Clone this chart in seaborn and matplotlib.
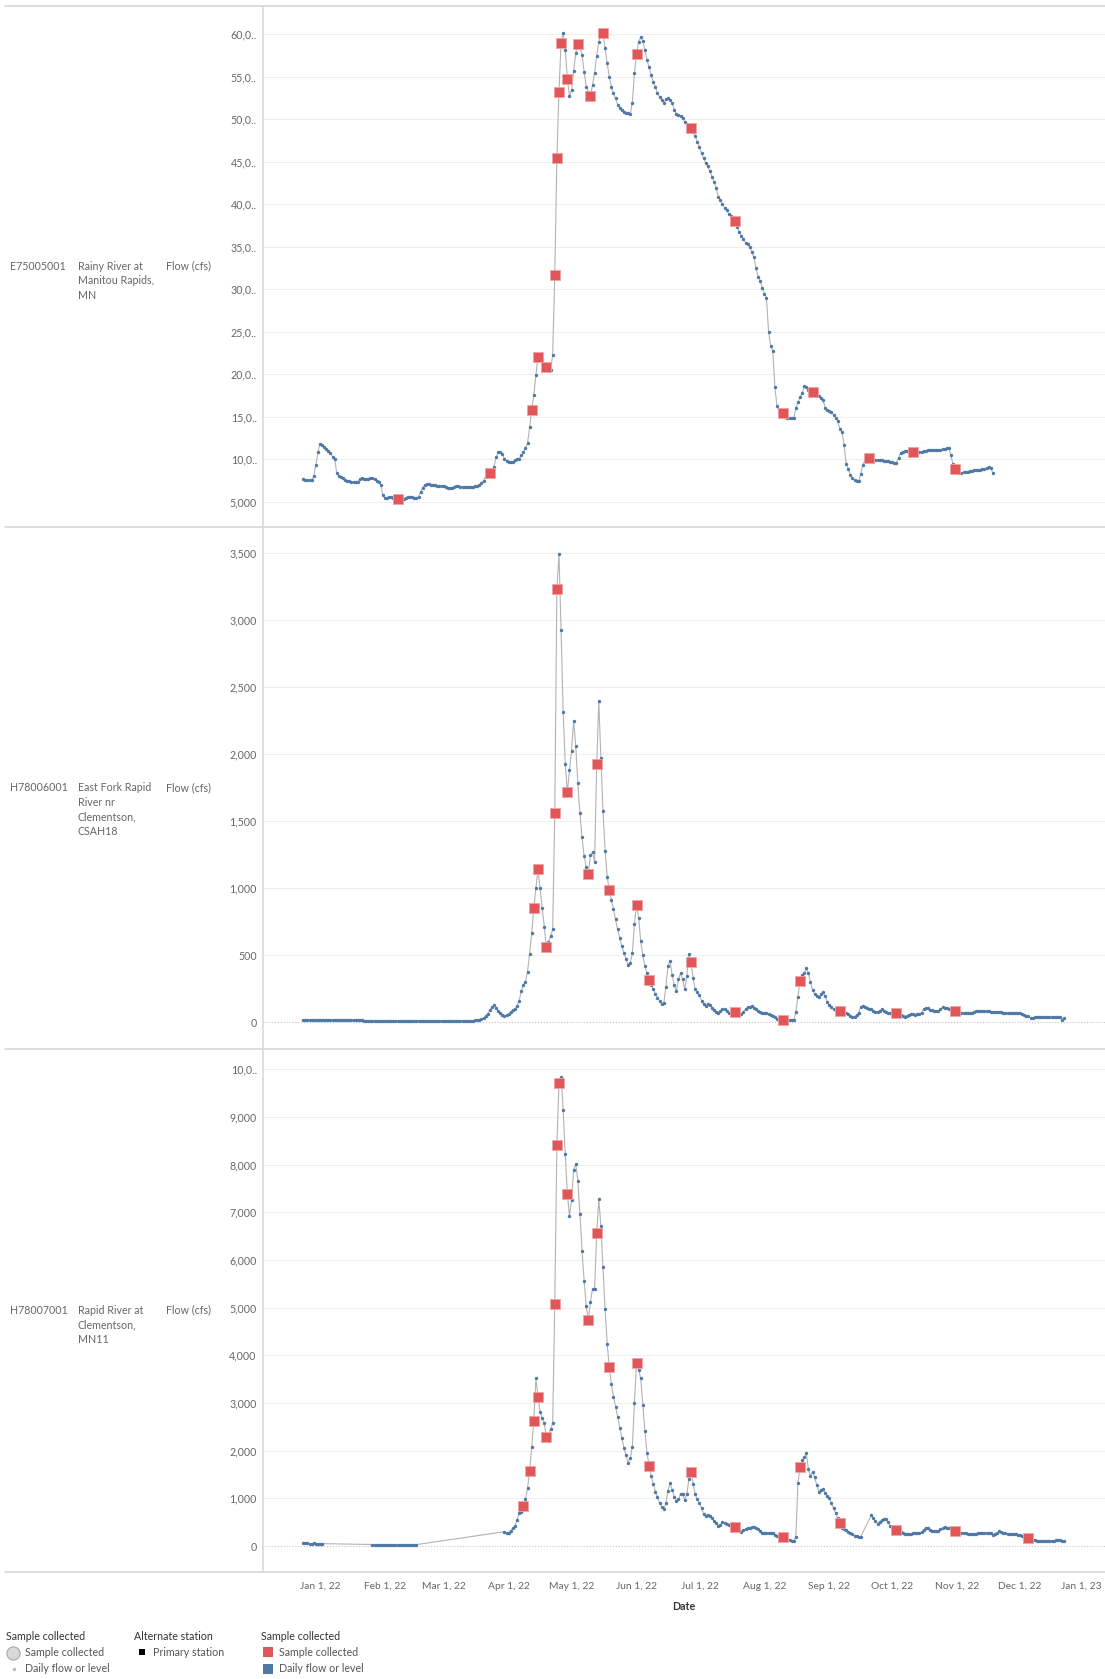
# -*- coding: utf-8 -*-

# Import libraries ======================================================================

import numpy as np
import pandas as pd
import matplotlib.pyplot as plt
from matplotlib.lines import Line2D
import seaborn as sns

# Data ==================================================================================

# Daily flow (cfs), one value per day starting on Dec 24, 2021. None = no reading.
START_DATE = "2021-12-24"

rainy_flow = [
    7700, 7600, 7550, 7550, 7550, 8000, 9330, 10800,  # Dec 24 - Dec 31
    11800, 11700, 11500, 11200, 11000, 10700, 10300, 10050, 8350, 8000,
    7900, 7750, 7550, 7450, 7400, 7300, 7350, 7350, 7350, 7700,
    7750, 7700, 7650, 7700, 7800, 7750, 7650, 7500, 7350, 6950,
    5800, 5500, 5500, 5600, 5600, 5500, 5450, 5350, 5200, 5200,
    5300, 5500, 5600, 5600, 5600, 5500, 5450, 5600, 6200, 6650,
    7000, 7050, 7050, 7000, 7000, 6950, 6900, 6900, 6850, 6800,
    6700, 6650, 6650, 6650, 6700, 6800, 6800, 6750, 6750, 6750,
    6750, 6750, 6750, 6750, 6800, 6850, 6950, 7200, 7500, 7950,
    8150, 8350, 8650, 9150, 10300, 10800, 10800, 10600, 10000, 9850,
    9700, 9650, 9700, 9900, 10000, 10050, 10450, 10800, 11300, 11900,
    13750, 15800, 17600, 19900, 22050, 22000, 21750, 21250, 20900, 20500,
    20550, 22300, 31650, 45400, 53250, 59000, 60200, 58200, 54800, 52700,
    53450, 55700, 57750, 58900, 58550, 57550, 55600, 53850, 53250, 52800,
    54000, 55500, 57450, 59150, 59900, 60100, 58350, 56600, 55000, 53850,
    53100, 52450, 51700, 51350, 51100, 50900, 50800, 50700, 50650, 51950,
    55400, 57650, 59150, 59650, 59250, 58150, 57000, 56100, 55200, 54400,
    53850, 53100, 52650, 52250, 51950, 52350, 52450, 52250, 51900, 51150,
    50600, 50500, 50400, 50100, 49700, 49450, 49200, 49000, 48550, 48050,
    47350, 46750, 46000, 45400, 44900, 44450, 43900, 43250, 42650, 41900,
    40900, 40500, 40000, 39600, 39300, 38900, 38600, 38300, 38000, 37300,
    36800, 36300, 35900, 35500, 35300, 35000, 34400, 33800, 32500, 31500,
    31000, 30200, 29500, 29000, 25000, 23300, 22800, 18500, 16300, 15500,
    15400, 15400, 15000, 14800, 14800, 14800, 14800, 16000, 16700, 17300,
    17800, 18600, 18500, 18200, 18000, 17950, 17700, 17550, 17400, 17200,
    17000, 16000, 15850, 15700, 15570, 15250, 14900, 14470, 13570, 13220,
    11730, 9500, 8870, 8200, 7800, 7550, 7450, 7420, 8290, 9380,
    9800, 10000, 10100, 10050, 10000, 9970, 9950, 9920, 9900, 9850,
    9800, 9750, 9700, 9650, 9600, 9580, 10170, 10760, 10900, 10950,
    10950, 10900, 10850, 10840, 10850, 10850, 10840, 10900, 10950, 11030,
    11050, 11080, 11110, 11110, 11110, 11110, 11150, 11200, 11250, 11300,
    11350, 10450, 9400, 8870, 8500, 8400, 8420, 8450, 8480, 8550,
    8620, 8680, 8700, 8700, 8720, 8750, 8800, 8870, 9000, 9070,
    9000, 8400,
]

east_fork_flow = [
    18, 18, 17, 18, 18, 17, 15, 18,  # Dec 24 - Dec 31
    18, 17, 15, 18, 17, 15, 17, 18, 18, 17,
    15, 17, 18, 18, 17, 15, 15, 15, 14, 12,
    12, 11, 10, 10, 10, 10, 10, 10, 11, 10,
    10, 10, 10, 10, 10, 10, 10, 10, 10, 10,
    10, 10, 10, 10, 10, 10, 10, 10, 10, 10,
    10, 10, 10, 10, 10, 10, 10, 10, 10, 10,
    10, 10, 10, 10, 10, 10, 10, 10, 10, 10,
    10, 10, 10, 10, 12, 15, 17, 20, 30, 45,
    60, 90, 110, 124, 107, 85, 65, 52, 47, 50,
    60, 77, 90, 97, 122, 157, 231, 276, 301, 376,
    510, 662, 853, 1000, 1139, 997, 853, 711, 557, 600,
    640, 691, 1557, 3231, 3493, 2925, 2316, 1925, 1714, 1880,
    2025, 2246, 2060, 1781, 1557, 1378, 1239, 1160, 1107, 1246,
    1266, 1194, 1923, 2393, 1968, 1577, 1279, 1085, 985, 910,
    841, 766, 691, 624, 567, 517, 473, 425, 443, 512,
    731, 871, 779, 604, 497, 418, 363, 313, 276, 244,
    209, 182, 159, 134, 139, 264, 420, 455, 351, 274,
    231, 318, 363, 318, 244, 343, 507, 445, 326, 244,
    221, 201, 159, 132, 119, 134, 124, 107, 90, 77,
    70, 82, 95, 95, 82, 65, 65, 70, 72, 65,
    60, 60, 72, 100, 109, 112, 119, 107, 95, 85,
    77, 70, 70, 65, 60, 55, 45, 35, 25, 18,
    15, 15, 15, 15, 15, 15, 15, 72, 190, 308,
    350, 363, 400, 363, 296, 239, 206, 197, 189, 210,
    226, 194, 152, 127, 109, 95, 88, 85, 82, 77,
    70, 65, 57, 47, 40, 40, 55, 70, 114, 122,
    109, 102, 98, 95, 82, 77, 77, 85, 97, 85,
    72, 65, 65, 65, 65, 65, 55, 50, 45, 35,
    45, 52, 57, 57, 52, 57, 63, 70, 97, 102,
    102, 90, 88, 85, 85, 82, 95, 109, 105, 102,
    97, 92, 88, 85, 78, 72, 71, 70, 67, 65,
    65, 65, 72, 80, 85, 85, 85, 84, 82, 80,
    77, 77, 77, 77, 75, 72, 71, 70, 70, 70,
    70, 70, 70, 68, 65, 58, 52, 48, 45, 30,
    33, 35, 36, 37, 37, 37, 37, 37, 37, 37,
    37, 37, 37, 35, 15, 32,
]

rapid_flow = [
    55, 55, 55, 50, 50, 55, 35, 40,  # Dec 24 - Dec 31
    50, 50, None, None, None, None, None, None, None, None,
    None, None, None, None, None, None, None, None, None, None,
    None, None, None, None, None, 30, 30, 30, 30, 30,
    30, 30, 30, 30, 30, 30, 30, 30, 30, 30,
    30, 30, 30, 30, 30, 30, 30, None, None, None,
    None, None, None, None, None, None, None, None, None, None,
    None, None, None, None, None, None, None, None, None, None,
    None, None, None, None, None, None, None, None, None, None,
    None, None, None, None, None, None, None, None, 300, 266,
    280, 322, 370, 420, 545, 685, 720, 846, 979, 1210,
    1580, 2070, 2622, 3517, 3119, 2818, 2678, 2573, 2280, 2350,
    2450, 2573, 5077, 8413, 9706, 9832, 9147, 8217, 7385, 6923,
    7259, 7888, 8014, 7664, 6965, 6196, 5566, 5042, 4741, 5112,
    5399, 5399, 6559, 7273, 6713, 5846, 4972, 4238, 3762, 3392,
    3133, 2923, 2713, 2483, 2259, 2063, 1909, 1748, 1839, 2084,
    2993, 3832, 3700, 3517, 2958, 2413, 1958, 1678, 1469, 1301,
    1140, 1021, 909, 825, 776, 895, 1161, 1315, 1175, 1035,
    951, 979, 1091, 1091, 965, 1091, 1400, 1545, 1301, 1091,
    979, 909, 790, 671, 629, 650, 629, 580, 524, 475,
    420, 440, 496, 490, 462, 440, 420, 400, 392, 360,
    336, 300, 336, 355, 370, 370, 392, 392, 370, 350,
    315, 280, 266, 266, 273, 280, 280, 231, 217, 200,
    190, 182, 165, 147, 130, 112, 112, 196, 1315, 1650,
    1800, 1860, 1944, 1615, 1469, 1559, 1440, 1280, 1140, 1175,
    1189, 1105, 1050, 1000, 895, 790, 685, 580, 475, 370,
    350, 336, 300, 266, 245, 217, 205, 196, 196, None,
    None, None, None, 650, 580, 531, 462, 510, 540, 566,
    559, 496, 420, 380, 350, 336, 310, 290, 280, 252,
    252, 252, 252, 266, 266, 266, 266, 294, 340, 385,
    370, 345, 322, 315, 315, 315, 350, 370, 392, 380,
    370, 350, 335, 322, 300, 287, 280, 272, 266, 260,
    252, 252, 252, 260, 266, 266, 266, 280, 266, 273,
    280, 231, 250, 266, 315, 287, 275, 266, 260, 252,
    252, 252, 252, 240, 231, 215, 196, 180, 161, 145,
    126, 120, 115, 112, 112, 112, 112, 112, 112, 112,
    112, 120, 126, 126, 112, 105,
]

# Sample dates as day offsets from Jan 1, 2022
rainy_samples = [37, 81, 101, 104, 108, 112, 113, 114, 115, 118, 123, 129, 135,
                 151, 177, 198, 221, 235, 262, 283, 303]
east_fork_samples = [102, 104, 108, 112, 113, 118, 128, 132, 138, 151, 157, 177,
                     198, 221, 229, 248, 275, 303]
rapid_samples = [97, 100, 102, 104, 108, 112, 113, 114, 118, 128, 132, 138, 151,
                 157, 177, 198, 221, 229, 248, 275, 303, 338]

station_ids = ["E75005001", "H78006001", "H78007001"]
station_names = ["Rainy River at\nManitou Rapids,\nMN",
                 "East Fork Rapid\nRiver nr\nClementson,\nCSAH18",
                 "Rapid River at\nClementson,\nMN11"]
measure_label = "Flow (cfs)"

rainy_ticks = [5000, 10000, 15000, 20000, 25000, 30000, 35000, 40000, 45000, 50000, 55000, 60000]
rainy_tick_labels = ["5,000", "10,0..", "15,0..", "20,0..", "25,0..", "30,0..",
                     "35,0..", "40,0..", "45,0..", "50,0..", "55,0..", "60,0.."]
east_fork_ticks = [0, 500, 1000, 1500, 2000, 2500, 3000, 3500]
east_fork_tick_labels = ["0", "500", "1,000", "1,500", "2,000", "2,500", "3,000", "3,500"]
rapid_ticks = [0, 1000, 2000, 3000, 4000, 5000, 6000, 7000, 8000, 9000, 10000]
rapid_tick_labels = ["0", "1,000", "2,000", "3,000", "4,000", "5,000", "6,000",
                     "7,000", "8,000", "9,000", "10,0.."]

# Style =================================================================================

sns.set_style("white")
plt.rcParams["font.family"] = ["Lato", "DejaVu Sans"]

BLUE = "#4e79a7"
RED = "#e15759"
LINE = "#b3b3b3"
GRID = "#efefef"
SEP = "#d6d6d6"
TXT = "#666666"
FS = 7.7
XFS = 7.4

W, H = 1105, 1679
AX_LEFT = 263
panel_px = [(6, 527), (527, 1049), (1049, 1572)]
ylims = [(2035, 63330), (-201, 3694), (-545, 10426)]

jan1 = pd.Timestamp("2022-01-01")
x_min = jan1 + pd.Timedelta(days=-27.2)
x_max = jan1 + pd.Timedelta(days=374.5)
month_ticks = pd.date_range("2022-01-01", "2023-01-01", freq="MS")
month_labels = [f"{d:%b} {d.day}, {d:%y}" for d in month_ticks]


def station_frame(flows, sample_days):
    ''' Build a tidy frame of daily flow with a flag for the sample days. '''
    dates = pd.date_range(START_DATE, periods=len(flows), freq="D")
    df = pd.DataFrame({"Date": dates, "Flow": np.array(flows, dtype=float)})
    df["Day"] = (df["Date"] - jan1).dt.days
    df["Sample"] = df["Day"].isin(sample_days)
    return df.dropna(subset=["Flow"])


frames = [station_frame(rainy_flow, rainy_samples),
          station_frame(east_fork_flow, east_fork_samples),
          station_frame(rapid_flow, rapid_samples)]
ticks = [rainy_ticks, east_fork_ticks, rapid_ticks]
tick_labels = [rainy_tick_labels, east_fork_tick_labels, rapid_tick_labels]

# Plot ==================================================================================

fig = plt.figure(figsize=(W / 100, H / 100), dpi=100)

for i, df in enumerate(frames):
    top, bottom = panel_px[i]
    ax = fig.add_axes([AX_LEFT / W, 1 - bottom / H, (W - AX_LEFT) / W, (bottom - top) / H])

    # gridlines, zero line dotted
    for t in ticks[i]:
        if t == 0:
            ax.axhline(t, color="#c4c4c4", lw=0.8, ls=(0, (1, 1.6)), zorder=0)
        else:
            ax.axhline(t, color=GRID, lw=0.8, zorder=0)

    sns.lineplot(data=df, x="Date", y="Flow", ax=ax, color=LINE, linewidth=0.8,
                 estimator=None, zorder=2)
    sns.scatterplot(data=df, x="Date", y="Flow", ax=ax, color=BLUE, s=6,
                    linewidth=0, zorder=3)
    sns.scatterplot(data=df[df["Sample"]], x="Date", y="Flow", ax=ax, marker="s",
                    s=62, color=RED, edgecolor="#f2a3a4", linewidth=0.6, zorder=4)

    ax.set_xlim(x_min, x_max)
    ax.set_ylim(*ylims[i])
    ax.set_yticks(ticks[i], tick_labels[i])
    ax.set_xlabel("")
    ax.set_ylabel("")
    ax.tick_params(axis="y", length=0, pad=4.5, labelsize=FS, labelcolor=TXT)
    for s in ["top", "right", "bottom"]:
        ax.spines[s].set_visible(False)
    ax.spines["left"].set_color(SEP)
    ax.spines["left"].set_linewidth(1.1)

    ax.set_xticks(month_ticks)
    if i == 2:
        # last label is drawn separately so it stays inside the figure
        ax.set_xticklabels(month_labels[:-1] + [""])
        ax.tick_params(axis="x", length=4, width=0.8, color="#cccccc", pad=3,
                       labelsize=XFS, labelcolor=TXT)
    else:
        ax.tick_params(axis="x", length=0, labelbottom=False)

    # row headers
    yc = (top + bottom) / 2 - 6
    fig.text(10 / W, 1 - yc / H, station_ids[i], fontsize=FS, color=TXT, va="top")
    fig.text(78 / W, 1 - yc / H, station_names[i], fontsize=FS, color=TXT, va="top",
             linespacing=1.4)
    fig.text(166 / W, 1 - yc / H, measure_label, fontsize=FS, color=TXT, va="top")

fig.text(1081 / W, 1 - 1586 / H, month_labels[-1], fontsize=XFS, color=TXT,
         ha="center", va="center")

# panel separators
for y in [6, 527, 1049, 1572]:
    fig.add_artist(Line2D([5 / W, 1], [1 - y / H, 1 - y / H], color=SEP, lw=1.2))

fig.text(684 / W, 1 - 1607 / H, "Date", fontsize=FS, color="#333333",
         fontweight="bold", ha="center", va="center")

# Legends ===============================================================================

lax = fig.add_axes([0, 0, 1, 1])
lax.set_xlim(0, W)
lax.set_ylim(H, 0)
lax.axis("off")

title_kw = dict(fontsize=FS, color="#333333", va="center")
item_kw = dict(fontsize=FS, color="#555555", va="center")

lax.text(6, 1637, "Sample collected", **title_kw)
lax.scatter([13], [1653], s=90, color="#d9d9d9", edgecolor="#a8a8a8", linewidth=0.8)
lax.text(25, 1653, "Sample collected", **item_kw)
lax.scatter([14], [1669], s=6, color="#b8b8b8", linewidth=0)
lax.text(25, 1669, "Daily flow or level", **item_kw)

lax.text(134, 1637, "Alternate station", **title_kw)
lax.scatter([142], [1652], s=22, marker="s", color="black", linewidth=0)
lax.text(153, 1652, "Primary station", **item_kw)

lax.text(261, 1637, "Sample collected", **title_kw)
lax.scatter([268], [1652], s=62, marker="s", color=RED, linewidth=0)
lax.text(279, 1652, "Sample collected", **item_kw)
lax.scatter([268], [1669], s=62, marker="s", color=BLUE, linewidth=0)
lax.text(279, 1669, "Daily flow or level", **item_kw)

plt.savefig("out.png", dpi=100)
